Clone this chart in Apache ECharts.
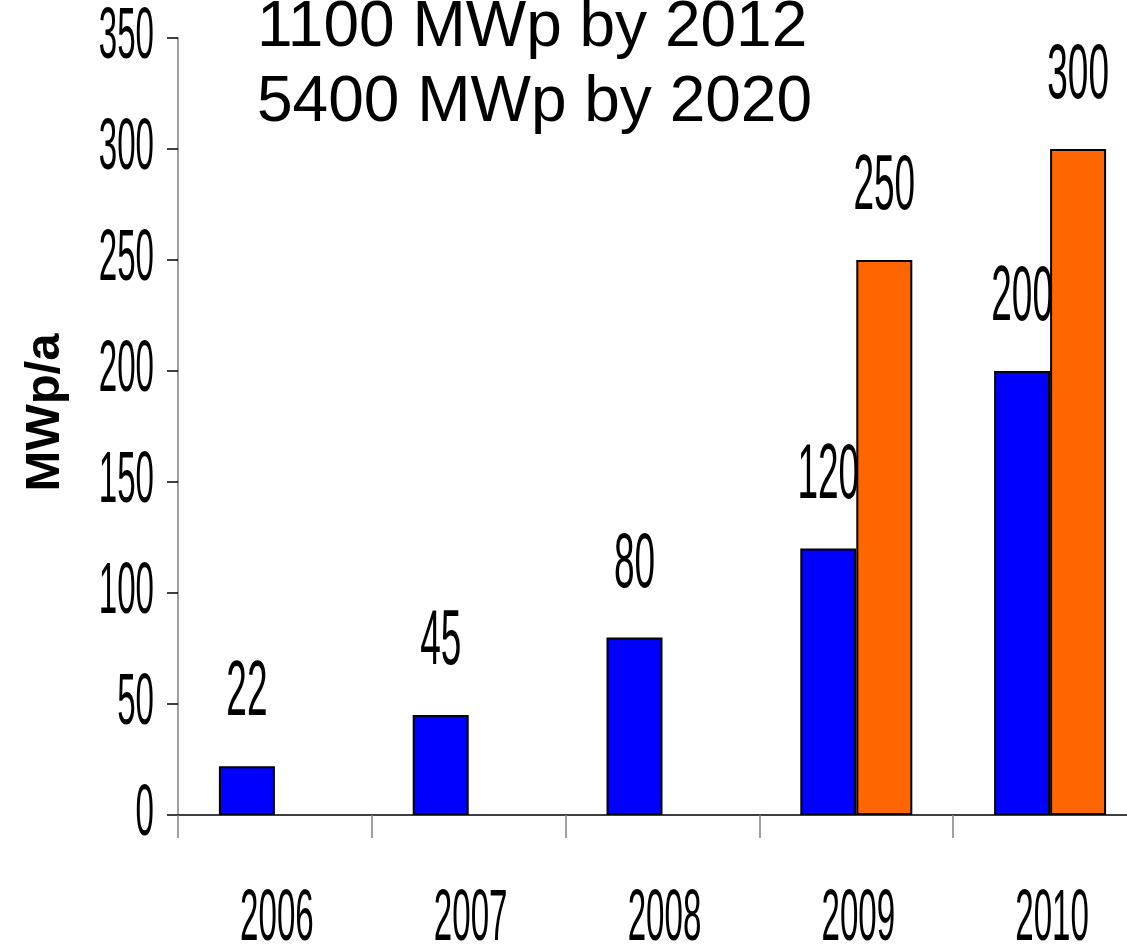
<!DOCTYPE html>
<html>
<head>
<meta charset="utf-8">
<script src="https://cdn.jsdelivr.net/npm/echarts@6/dist/echarts.min.js"></script>
<style>
  html, body { margin: 0; padding: 0; background: #fff; }
  #chart { width: 1127px; height: 949px; }
</style>
</head>
<body>
<div id="chart"></div>
<script>
// data
var years = ['2006', '2007', '2008', '2009', '2010'];
var achieved = [22, 45, 80, 120, 200];
var target = [null, null, null, 250, 300];
var yTicks = [0, 50, 100, 150, 200, 250, 300, 350];

var sans = 'Liberation Sans';
var BAR_W = 56;

var myChart = echarts.init(document.getElementById('chart'));

// the original uses very condensed digits, so these texts are squeezed horizontally
function narrowText(x, y, text, size, sx, align) {
  return {
    type: 'text',
    x: x,
    y: y,
    scaleX: sx,
    silent: true,
    style: {
      text: text,
      fontFamily: sans,
      fontSize: size,
      fill: '#000',
      align: align,
      verticalAlign: 'middle'
    }
  };
}

function valueLabels(values, offset) {
  return {
    type: 'custom',
    silent: true,
    z: 5,
    data: values.map(function (v, i) { return [i, v]; }).filter(function (d) { return d[1] != null; }),
    renderItem: function (params, api) {
      var p = api.coord([api.value(0), api.value(1)]);
      return narrowText(p[0] + offset, p[1] - 72, String(api.value(1)), 77, 0.48, 'center');
    }
  };
}

var option = {
  backgroundColor: '#fff',
  animation: false,
  title: {
    text: '1100 MWp by 2012\n5400 MWp by 2020',
    left: 252,
    top: -14,
    textStyle: {
      fontFamily: sans,
      fontWeight: 'normal',
      fontSize: 64,
      lineHeight: 75,
      color: '#000'
    }
  },
  grid: {
    left: 178,
    top: 38,
    width: 969,
    height: 777,
    outerBoundsMode: 'none'
  },
  xAxis: {
    type: 'category',
    data: years,
    axisLine: { lineStyle: { color: '#000', width: 1.5 } },
    axisTick: { show: true, length: 23, lineStyle: { color: '#808080', width: 1.5 } },
    axisLabel: { show: false }
  },
  yAxis: {
    type: 'value',
    min: yTicks[0],
    max: yTicks[yTicks.length - 1],
    interval: 50,
    name: 'MWp/a',
    nameLocation: 'middle',
    nameRotate: 90,
    nameGap: 108,
    nameTextStyle: {
      fontFamily: sans,
      fontWeight: 'bold',
      fontSize: 49,
      color: '#000',
      padding: [0, 0, 0, 28]
    },
    axisLine: { show: true, lineStyle: { color: '#808080', width: 1.5 } },
    axisTick: { show: true, length: 11, lineStyle: { color: '#000', width: 1.5 } },
    splitLine: { show: false },
    axisLabel: { show: false }
  },
  series: [
    {
      name: 'achieved',
      type: 'bar',
      data: achieved,
      barWidth: BAR_W,
      barGap: 0,
      itemStyle: { color: '#0000ff', borderColor: '#000', borderWidth: 2 }
    },
    {
      name: 'target',
      type: 'bar',
      data: target,
      barWidth: BAR_W,
      barGap: 0,
      itemStyle: { color: '#ff6600', borderColor: '#000', borderWidth: 2 }
    },
    valueLabels(achieved, -BAR_W / 2),
    valueLabels(target, BAR_W / 2),
    {
      // y tick labels
      type: 'custom',
      silent: true,
      data: yTicks.map(function (v) { return [0, v]; }),
      renderItem: function (params, api) {
        var p = api.coord([0, api.value(1)]);
        var left = p[0] - api.size([1, 0])[0] / 2;
        return narrowText(left - 24, p[1], String(api.value(1)), 72, 0.46, 'right');
      }
    },
    {
      // x category labels
      type: 'custom',
      silent: true,
      data: years.map(function (y, i) { return [i, 0]; }),
      renderItem: function (params, api) {
        var p = api.coord([api.value(0), 0]);
        return narrowText(p[0] + 2, p[1] + 105, years[params.dataIndex], 72, 0.46, 'center');
      }
    }
  ]
};

myChart.setOption(option);
</script>
</body>
</html>
